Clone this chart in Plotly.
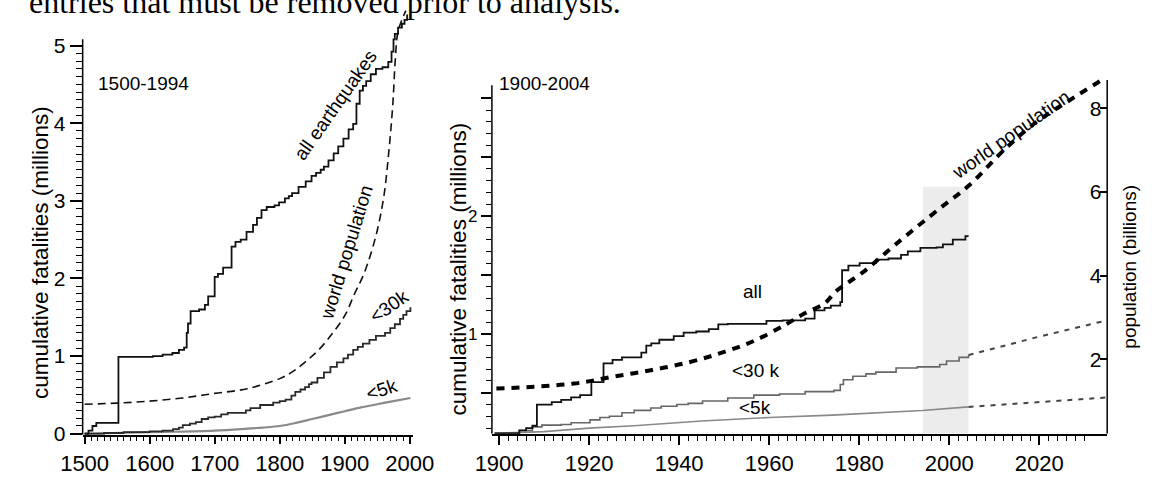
import plotly.graph_objects as go

W, H = 1159, 479

# ---------------- data: left panel (1500-1994) ----------------
left_all_years = [1500, 1506, 1512, 1518, 1552, 1605, 1620, 1635, 1645, 1653, 1657, 1659, 1663, 1676, 1685, 1690,
                  1700, 1705, 1713, 1726, 1732, 1740, 1749, 1759, 1765, 1772, 1780, 1792, 1799, 1808, 1814, 1819,
                  1829, 1840, 1849, 1856, 1863, 1868, 1875, 1883, 1890, 1898, 1906, 1913, 1918, 1923, 1928,
                  1933, 1940, 1948, 1958, 1967, 1972, 1975, 1977, 1982, 1988, 1992, 1996]
left_all_vals = [0.00, 0.04, 0.10, 0.14, 0.99, 1.00, 1.02, 1.04, 1.08, 1.11, 1.30, 1.42, 1.58, 1.60, 1.66, 1.77,
                 2.02, 2.06, 2.14, 2.41, 2.47, 2.50, 2.60, 2.69, 2.78, 2.88, 2.92, 2.94, 2.98, 3.03, 3.06, 3.10,
                 3.18, 3.25, 3.32, 3.36, 3.40, 3.44, 3.52, 3.61, 3.70, 3.80, 3.92, 3.99, 4.25, 4.42, 4.48,
                 4.54, 4.63, 4.70, 4.72, 4.79, 4.92, 5.08, 5.15, 5.23, 5.28, 5.33, 5.40]

left_pop_years = [1500, 1550, 1600, 1650, 1700, 1750, 1800, 1820, 1840, 1860, 1880, 1900, 1915, 1930, 1948, 1960,
                  1968, 1974, 1978, 1982, 1994]
left_pop_vals = [0.38, 0.395, 0.42, 0.46, 0.52, 0.58, 0.71, 0.80, 0.93, 1.08, 1.28, 1.52, 1.80, 2.07, 2.55, 3.05,
                 3.65, 4.25, 4.85, 5.18, 5.45]

left_30k_years = [1500, 1530, 1560, 1600, 1620, 1636, 1645, 1651, 1662, 1671, 1680, 1690, 1700, 1710, 1720, 1748,
                  1755, 1770, 1790, 1800, 1809, 1818, 1824, 1832, 1839, 1845, 1849, 1858, 1868, 1878, 1888, 1898,
                  1905, 1913, 1920, 1928, 1938, 1948, 1962, 1970, 1977, 1985, 1990, 1995, 2001]
left_30k_vals = [0.00, 0.01, 0.02, 0.03, 0.04, 0.06, 0.08, 0.11, 0.13, 0.15, 0.19, 0.21, 0.22, 0.25, 0.27, 0.30,
                 0.33, 0.37, 0.40, 0.42, 0.44, 0.49, 0.54, 0.57, 0.60, 0.64, 0.66, 0.72, 0.79, 0.86, 0.92, 0.97,
                 1.02, 1.08, 1.12, 1.16, 1.21, 1.26, 1.30, 1.36, 1.41, 1.48, 1.53, 1.58, 1.63]

left_5k_years = [1500, 1600, 1700, 1750, 1775, 1800, 1825, 1850, 1875, 1900, 1925, 1950, 1975, 2001]
left_5k_vals = [0.00, 0.02, 0.04, 0.065, 0.08, 0.10, 0.14, 0.19, 0.24, 0.29, 0.34, 0.38, 0.42, 0.46]

# ---------------- data: right panel (1900-2004) ----------------
right_all_years = [1899, 1904.5, 1906, 1907.4, 1908.4, 1911.7, 1913.8, 1916, 1918, 1920.5, 1923.2, 1925.2, 1927.3,
                   1931.6, 1932.7, 1933.8, 1935.6, 1938.8, 1941, 1943.8, 1946.6, 1948.7, 1950.8, 1959.4, 1963,
                   1968, 1970.1, 1972.3, 1973.7, 1975.8, 1976.2, 1977.6, 1980.1, 1983.7, 1986.5, 1989.3, 1990.8,
                   1993.6, 1997.2, 1998.6, 2000.8, 2003.6, 2004.3]
right_all_vals = [0.155, 0.18, 0.20, 0.22, 0.40, 0.42, 0.44, 0.46, 0.48, 0.59, 0.75, 0.78, 0.80,
                  0.84, 0.90, 0.92, 0.95, 0.98, 1.01, 1.02, 1.04, 1.08, 1.085, 1.11, 1.115,
                  1.13, 1.20, 1.22, 1.24, 1.27, 1.54, 1.58, 1.60, 1.63, 1.64, 1.67, 1.70,
                  1.73, 1.735, 1.76, 1.80, 1.83, 1.83]

right_30k_years = [1899, 1904.5, 1907.4, 1909.5, 1913.8, 1916, 1920.2, 1922.4, 1924.5, 1927.3, 1930, 1933.7, 1936,
                   1939.5, 1942, 1945.2, 1950.8, 1956.6, 1962.3, 1968, 1974.4, 1975.8, 1976.5, 1978.6, 1981.5,
                   1983.7, 1988.2, 1992.9, 1997.9, 1999.4, 2002.2, 2004.3]
right_30k_vals = [0.155, 0.18, 0.21, 0.225, 0.23, 0.245, 0.27, 0.29, 0.30, 0.33, 0.35, 0.37, 0.385,
                  0.40, 0.41, 0.43, 0.455, 0.48, 0.49, 0.51, 0.52, 0.57, 0.61, 0.64, 0.66,
                  0.675, 0.71, 0.72, 0.74, 0.77, 0.80, 0.82]
right_30k_proj_years = [2004.3, 2019.3, 2034.5]
right_30k_proj_vals = [0.82, 0.97, 1.11]

right_5k_years = [1899, 1905, 1910, 1920, 1930, 1945, 1960, 1974, 1984, 1994, 2004.3]
right_5k_vals = [0.155, 0.16, 0.17, 0.20, 0.22, 0.26, 0.29, 0.31, 0.33, 0.35, 0.38]
right_5k_proj_years = [2004.3, 2019.3, 2035]
right_5k_proj_vals = [0.38, 0.42, 0.46]

pop_years = [1899.4, 1916.6, 1925.1, 1933.7, 1942.2, 1949.5, 1956.6, 1963.6, 1967.9, 1972.2, 1975.1, 1980.8,
             1988.0, 1997.9, 2004.3, 2012.2, 2019.3, 2026.5, 2033.9]
pop_billions = [1.30, 1.42, 1.58, 1.74, 1.93, 2.16, 2.44, 2.83, 3.10, 3.33, 3.65, 4.08,
                4.74, 5.61, 6.15, 7.01, 7.67, 8.18, 8.68]

band_years = [1994.2, 2004.3]
band_top = 2.25

left_xticks = [1500, 1600, 1700, 1800, 1900, 2000]
left_yticks = [0, 1, 2, 3, 4, 5]
right_xticks = [1900, 1920, 1940, 1960, 1980, 2000, 2020]
right_yticks = [0.5, 1, 1.5, 2, 2.5, 3]
right_yticktext = ["", "1", "", "2", "", ""]
pop_ticks = [2, 4, 6, 8]

# ---------------- layout geometry ----------------
def px(x, y):
    return x / W, 1 - y / H

TICKFONT = "Liberation Sans Narrow, Arial Narrow, Liberation Sans, Arial, sans-serif"
TEXTFONT = "Liberation Sans, Arial, sans-serif"

fig = go.Figure()

# left panel traces
fig.add_trace(go.Scatter(x=left_5k_years, y=left_5k_vals, mode="lines", line_shape="spline",
                         line=dict(color="#8a8a8a", width=2.2), xaxis="x", yaxis="y"))
fig.add_trace(go.Scatter(x=left_30k_years, y=left_30k_vals, mode="lines", line_shape="hv",
                         line=dict(color="#2a2a2a", width=1.8), xaxis="x", yaxis="y"))
fig.add_trace(go.Scatter(x=left_pop_years, y=left_pop_vals, mode="lines", line_shape="spline",
                         line=dict(color="#111111", width=1.6, dash="8px,5px"), xaxis="x", yaxis="y"))
fig.add_trace(go.Scatter(x=left_all_years, y=left_all_vals, mode="lines", line_shape="hv",
                         line=dict(color="#111111", width=1.8), xaxis="x", yaxis="y"))

# right panel traces
fig.add_trace(go.Scatter(x=right_5k_years, y=right_5k_vals, mode="lines",
                         line=dict(color="#888888", width=1.6), xaxis="x2", yaxis="y2"))
fig.add_trace(go.Scatter(x=right_5k_proj_years, y=right_5k_proj_vals, mode="lines",
                         line=dict(color="#444444", width=2, dash="5px,6px"), xaxis="x2", yaxis="y2"))
fig.add_trace(go.Scatter(x=right_30k_years, y=right_30k_vals, mode="lines", line_shape="hv",
                         line=dict(color="#666666", width=1.6), xaxis="x2", yaxis="y2"))
fig.add_trace(go.Scatter(x=right_30k_proj_years, y=right_30k_proj_vals, mode="lines",
                         line=dict(color="#444444", width=2, dash="5px,6px"), xaxis="x2", yaxis="y2"))
fig.add_trace(go.Scatter(x=right_all_years, y=right_all_vals, mode="lines", line_shape="hv",
                         line=dict(color="#111111", width=1.8), xaxis="x2", yaxis="y2"))
fig.add_trace(go.Scatter(x=pop_years, y=pop_billions, mode="lines", line_shape="spline",
                         line=dict(color="#000000", width=4, dash="8px,7px"), xaxis="x2", yaxis="y3"))

# axis domains/ranges derived from pixel positions of reference
lx0, lx1 = 63 / W, 406 / W
ly0, ly1 = 1 - 444 / H, 1.0
rx0, rx1 = 488 / W, 1127 / W
ry0, ry1 = 1 - 443 / H, 1 - 40 / H

axis_common = dict(showgrid=False, zeroline=False, linecolor="black", tickcolor="black",
                   tickwidth=1.5)

fig.update_layout(
    width=W, height=H, autosize=False, margin=dict(l=0, r=0, t=0, b=0),
    paper_bgcolor="white", plot_bgcolor="white", showlegend=False,
    xaxis=dict(domain=[lx0, lx1], range=[1497, 2004.9], anchor="y", showline=True, linewidth=1.5,
               tickmode="array", tickvals=left_xticks, ticks="outside", ticklen=8,
               tickfont=dict(family=TICKFONT, size=22, color="black"),
               minor=dict(tickmode="array", tickvals=[y for y in range(1510, 2001, 10) if y % 100],
                          ticks="outside", ticklen=5, tickwidth=1, tickcolor="black"),
               **axis_common),
    yaxis=dict(domain=[ly0, ly1], range=[-0.0126, 5.586], anchor="x", showline=False,
               tickmode="array", tickvals=left_yticks, ticks="outside", ticklen=12,
               tickfont=dict(family=TICKFONT, size=21, color="black"),
               minor=dict(tickmode="array", tickvals=[i / 10 for i in range(1, 50) if i % 10],
                          ticks="outside", ticklen=6, tickwidth=1, tickcolor="black"),
               **axis_common),
    xaxis2=dict(domain=[rx0, rx1], range=[1898.4, 2035.1], anchor="y2", showline=True, linewidth=1.5,
                tickmode="array", tickvals=right_xticks, ticks="outside", ticklen=9,
                tickfont=dict(family=TICKFONT, size=22, color="black"),
                minor=dict(tickmode="array", tickvals=[y for y in range(1900, 2035, 2) if y % 20],
                           ticks="outside", ticklen=5, tickwidth=1, tickcolor="black"),
                **axis_common),
    yaxis2=dict(domain=[ry0, ry1], range=[0.152, 3.502], anchor="x2", showline=False,
                tickmode="array", tickvals=right_yticks, ticktext=right_yticktext, ticks="outside",
                ticklen=10, tickfont=dict(family=TICKFONT, size=17, color="black"),
                minor=dict(tickmode="array",
                           tickvals=[i / 10 for i in range(2, 31) if i % 5],
                           ticks="outside", ticklen=5, tickwidth=1, tickcolor="black"),
                **axis_common),
    yaxis3=dict(domain=[ry0, ry1], range=[0.220, 9.658], anchor="x2", overlaying="y2", side="right",
                showline=False, tickmode="array", tickvals=pop_ticks, ticks="inside", ticklen=7,
                ticklabelposition="inside", tickfont=dict(family=TICKFONT, size=21, color="black"),
                **axis_common),
    yaxis4=dict(domain=[ry0, ry1], range=[0.220, 9.658], anchor="x2", overlaying="y2", side="right",
                showline=False, tickmode="array", tickvals=pop_ticks, ticks="outside", ticklen=7,
                showticklabels=False, **axis_common),
)

# shaded 1994-2004 band and axis lines
fig.add_shape(type="rect", xref="x2", yref="y2", x0=band_years[0], x1=band_years[1], y0=0.152, y1=band_top,
              fillcolor="#ececec", line=dict(width=0), layer="below")
fig.add_shape(type="line", xref="x domain", yref="y", x0=0, x1=0, y0=-0.0126, y1=5.08,
              line=dict(color="black", width=1.5))
fig.add_shape(type="line", xref="x2 domain", yref="y2", x0=0, x1=0, y0=0.152, y1=3.11,
              line=dict(color="black", width=1.5))
fig.add_shape(type="line", xref="x2 domain", yref="y3", x0=1, x1=1, y0=0.22, y1=8.68,
              line=dict(color="black", width=1.5))

def label(text, x, y, size=19, angle=0, family=TEXTFONT):
    ax, ay = px(x, y)
    fig.add_annotation(text=text, x=ax, y=ay, xref="paper", yref="paper", showarrow=False,
                       xanchor="center", yanchor="middle", textangle=angle,
                       font=dict(family=family, size=size, color="black"))

label("1500-1994", 126, 85)
label("all earthquakes", 326, 107, angle=-55)
label("world population", 337, 258, angle=-73)
label("&lt;30k", 381, 313, angle=-35)
label("&lt;5k", 374, 398, angle=-18)
label("1900-2004", 543, 85)
label("world population", 1027, 137, angle=-35)
label("all", 759, 298)
label("&lt;30 k", 762, 378)
label("&lt;5k", 761, 416)
label("cumulative fatalities (millions)", 19, 258, size=22.5, angle=-90)
label("cumulative fatalities (millions)", 453, 275, size=22.5, angle=-90)
label("population (billions)", 1150, 272, size=19, angle=-90)

# cropped line of body text from the page above the figure
tx, ty = px(5, 22)
fig.add_annotation(text="entries that must be removed prior to analysis.", x=tx, y=ty, xref="paper",
                   yref="paper", showarrow=False, xanchor="left", yanchor="bottom",
                   font=dict(family="Liberation Serif, Times New Roman, serif", size=32, color="black"))

fig.write_html("out.html")
